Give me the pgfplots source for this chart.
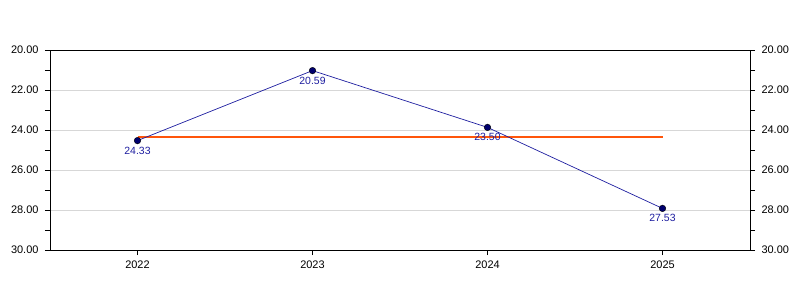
\documentclass[border=0pt]{standalone}
\usepackage{pgfplots}
\pgfplotsset{compat=1.18}
\usepackage{fontspec}
\setmainfont{Liberation Sans}
\definecolor{lineblue}{RGB}{30,30,160}
\definecolor{markblue}{RGB}{0,0,110}
\definecolor{avgorange}{RGB}{255,85,10}
\definecolor{gridgray}{RGB}{215,215,215}
\pgfplotsset{
  common/.style={
    scale only axis, width=700bp, height=200bp,
    at={(0,0)}, anchor=south west,
    xmin=-0.5, xmax=3.5, ymin=20, ymax=30, y dir=reverse,
    ytick={20,22,24,26,28,30}, minor y tick num=1,
    tick align=outside, major tick length=5bp, minor tick length=5bp,
    every tick/.style={black, line width=0.6bp},
    tick label style={font=\fontsize{11}{13}\selectfont},
    yticklabel style={/pgf/number format/fixed, /pgf/number format/fixed zerofill, /pgf/number format/precision=2},
    /pgf/number format/assume math mode=true,
    axis line style={black, line width=0.8bp},
  }
}
\begin{document}
\begin{tikzpicture}
\path (-50bp,-50bp) rectangle (750bp,250bp);
\begin{axis}[common,
  xtick={0,1,2,3}, xticklabels={2022,2023,2024,2025},
  xtick pos=bottom, ytick pos=left,
  ymajorgrids, grid style={gridgray, line width=0.6bp},
  yticklabel style={xshift=-3bp},
  xticklabel style={yshift=-2bp},
  clip=false,
]
\addplot[avgorange, line width=2.2bp, forget plot] coordinates {(0,24.33) (3,24.33)};
\addplot[lineblue, line width=0.7bp,
  mark=*, mark size=3.3bp, mark options={fill=markblue, draw=black, line width=0.4bp},
  point meta=explicit symbolic,
  nodes near coords,
  nodes near coords style={anchor=north, font=\fontsize{10.5}{12}\selectfont, text=lineblue, inner sep=1bp, yshift=-5bp},
] table[meta=label] {
x y label
0 24.53 24.33
1 21.03 20.59
2 23.87 23.50
3 27.92 27.53
};
\end{axis}
\begin{axis}[common,
  axis x line=none, ytick pos=right, yticklabel pos=right,
  yticklabel style={xshift=3bp},
]
\addplot[draw=none] coordinates {(0,25)};
\end{axis}
\end{tikzpicture}
\end{document}
